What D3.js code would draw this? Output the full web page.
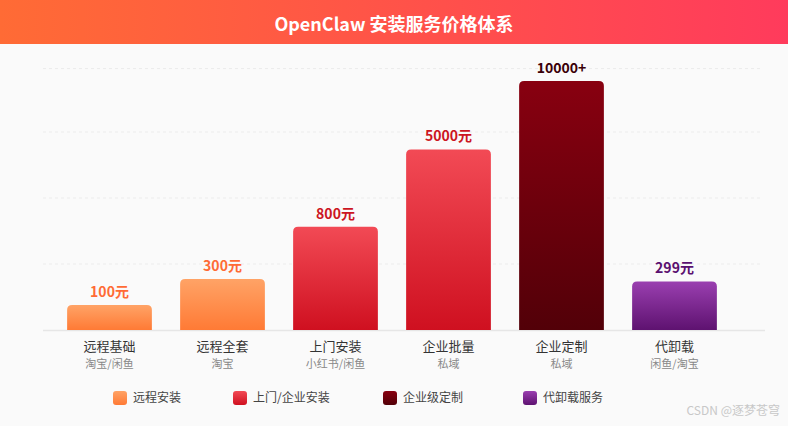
<!DOCTYPE html>
<html><head><meta charset="utf-8">
<script src="https://cdn.jsdelivr.net/npm/d3@7"></script>
<style>body{margin:0;background:#fafafa;font-family:"Noto Sans CJK SC","Noto Sans",sans-serif}</style>
</head><body><svg id="c" width="788" height="426"></svg>
<script>
const categories=["远程基础","远程全套","上门安装","企业批量","企业定制","代卸载"];
const channels=["淘宝/闲鱼","淘宝","小红书/闲鱼","私域","私域","闲鱼/淘宝"];
const priceLabels=["100元","300元","800元","5000元","10000+","299元"];
const barLevels=[10,20.5,41.5,72.5,100,19.5];
const groups=[0,0,1,1,2,3];
const legendNames=["远程安装","上门/企业安装","企业级定制","代卸载服务"];
const groupColors=[["#ffa366","#ff7a35"],["#f24a55","#cf1020"],["#880010","#520008"],["#9a3fb0","#5e1270"]];
const labelColors=["#ff6b35","#cc1522","#3a0008","#5a1070"];

const svg=d3.select("#c");
const defs=svg.append("defs");
const hg=defs.append("linearGradient").attr("id","hg");
hg.append("stop").attr("offset","0").attr("stop-color","#ff6b35");
hg.append("stop").attr("offset","1").attr("stop-color","#ff3b5c");
groupColors.forEach((c,i)=>{const g=defs.append("linearGradient").attr("id","g"+i).attr("x1",0).attr("y1",0).attr("x2",0).attr("y2",1);
g.append("stop").attr("offset","0").attr("stop-color",c[0]);g.append("stop").attr("offset","1").attr("stop-color",c[1]);});

svg.append("rect").attr("width",788).attr("height",426).attr("fill","#fafafa");
svg.append("rect").attr("width",788).attr("height",44).attr("fill","url(#hg)");
svg.append("text").attr("x",394).attr("y",23).attr("text-anchor","middle").attr("dominant-baseline","central")
 .attr("fill","#fff").attr("font-size",18).attr("font-weight","bold").text("OpenClaw 安装服务价格体系");

const base=330;
const x=d3.scaleBand().domain(categories).range([53,731]).paddingInner(0.25).paddingOuter(0.125);
const y=d3.scaleLinear().domain([0,100]).range([base,81]);
[26.5,53,79.5,105].forEach(v=>svg.append("line").attr("x1",43).attr("x2",760).attr("y1",y(v)).attr("y2",y(v))
 .attr("stroke","#ececec").attr("stroke-dasharray","3,3"));
svg.append("line").attr("x1",43).attr("x2",765).attr("y1",base+0.5).attr("y2",base+0.5).attr("stroke","#e6e6e6").attr("stroke-width",1.5);

categories.forEach((c,i)=>{
 const x0=x(c),w=x.bandwidth(),yt=y(barLevels[i]);
 svg.append("path").attr("fill","url(#g"+groups[i]+")")
  .attr("d",`M${x0},${base}V${yt+5}Q${x0},${yt} ${x0+5},${yt}H${x0+w-5}Q${x0+w},${yt} ${x0+w},${yt+5}V${base}Z`);
 svg.append("text").attr("x",x0+w/2).attr("y",yt-8).attr("text-anchor","middle").attr("font-size",14).attr("font-weight","bold")
  .attr("fill",labelColors[groups[i]]).text(priceLabels[i]);
 svg.append("text").attr("x",x0+w/2).attr("y",351).attr("text-anchor","middle").attr("font-size",13).attr("fill","#333").text(c);
 svg.append("text").attr("x",x0+w/2).attr("y",368).attr("text-anchor","middle").attr("font-size",11).attr("fill","#888").text(channels[i]);
});

const lx=[113,233,383,523];
legendNames.forEach((n,i)=>{
 svg.append("rect").attr("x",lx[i]).attr("y",391).attr("width",14).attr("height",14).attr("rx",3).attr("fill","url(#g"+i+")");
 svg.append("text").attr("x",lx[i]+20).attr("y",402).attr("font-size",12).attr("fill","#444").text(n);
});
svg.append("text").attr("x",780).attr("y",415).attr("text-anchor","end").attr("font-size",12).attr("fill","#c8c8c8").text("CSDN @逐梦苍穹");
</script></body></html>
